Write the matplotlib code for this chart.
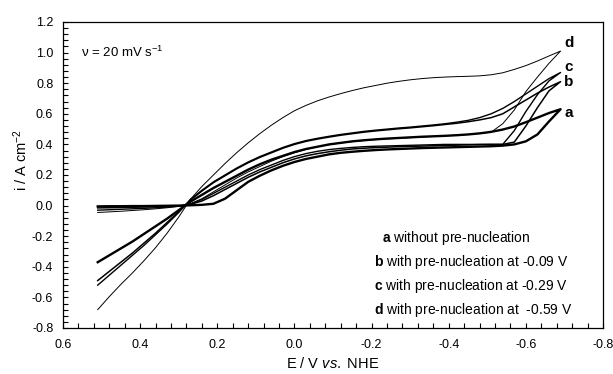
import matplotlib
matplotlib.use("Agg")
import matplotlib.pyplot as plt
from matplotlib.ticker import MultipleLocator

plt.rcParams['font.family'] = ['Liberation Sans', 'DejaVu Sans']
plt.rcParams['mathtext.fontset'] = 'custom'
plt.rcParams['mathtext.rm'] = 'Liberation Sans'
plt.rcParams['mathtext.it'] = 'Liberation Sans:italic'
plt.rcParams['mathtext.bf'] = 'Liberation Sans:bold'

# Potential grid (V vs NHE), in forward (cathodic) sweep order
E_fwd = [0.51, 0.48, 0.45, 0.42, 0.39, 0.36, 0.33, 0.30, 0.27, 0.24, 0.21, 0.18,
         0.15, 0.12, 0.09, 0.06, 0.03, 0.00, -0.03, -0.06, -0.09, -0.12, -0.15,
         -0.18, -0.21, -0.24, -0.27, -0.30, -0.33, -0.36, -0.39, -0.42, -0.45,
         -0.48, -0.51, -0.54, -0.57, -0.60, -0.63, -0.66, -0.69]

# Currents (A cm^-2) of the forward sweep, listed along E_fwd
a_fwd = [-0.005, -0.004, -0.004, -0.003, -0.003, -0.002, -0.001, 0.0, 0.002, 0.005, 0.012, 0.045,
         0.10, 0.155, 0.195, 0.23, 0.26, 0.285, 0.305, 0.32, 0.335, 0.345, 0.352,
         0.358, 0.363, 0.367, 0.37, 0.373, 0.376, 0.378, 0.38, 0.382, 0.384,
         0.386, 0.388, 0.392, 0.40, 0.42, 0.465, 0.55, 0.63]
b_fwd = [-0.015, -0.014, -0.012, -0.011, -0.009, -0.007, -0.005, -0.002, 0.008, 0.03, 0.065, 0.105,
         0.145, 0.185, 0.22, 0.25, 0.28, 0.305, 0.325, 0.34, 0.352, 0.362, 0.37,
         0.375, 0.379, 0.382, 0.385, 0.387, 0.389, 0.391, 0.393, 0.395, 0.397,
         0.399, 0.40, 0.40, 0.415, 0.52, 0.64, 0.75, 0.81]
c_fwd = [-0.03, -0.027, -0.024, -0.021, -0.018, -0.014, -0.01, -0.004, 0.01, 0.04, 0.08, 0.12,
         0.16, 0.20, 0.235, 0.265, 0.295, 0.32, 0.34, 0.355, 0.366, 0.374, 0.38,
         0.385, 0.388, 0.39, 0.392, 0.394, 0.396, 0.398, 0.40, 0.40, 0.40,
         0.40, 0.40, 0.40, 0.49, 0.615, 0.725, 0.815, 0.87]
d_fwd = [-0.045, -0.041, -0.037, -0.032, -0.027, -0.021, -0.014, -0.005, 0.012, 0.045, 0.09, 0.135,
         0.18, 0.22, 0.255, 0.29, 0.32, 0.345, 0.367, 0.385, 0.398, 0.41, 0.418,
         0.425, 0.431, 0.436, 0.44, 0.444, 0.448, 0.452, 0.456, 0.46, 0.465,
         0.472, 0.48, 0.535, 0.625, 0.745, 0.84, 0.93, 1.01]

# Currents of the reverse (anodic-going) sweep, also listed along E_fwd
a_rev = [-0.37, -0.325, -0.28, -0.235, -0.185, -0.135, -0.085, -0.03, 0.025, 0.07, 0.115, 0.155,
         0.195, 0.235, 0.27, 0.30, 0.325, 0.35, 0.37, 0.385, 0.40, 0.41, 0.42,
         0.427, 0.433, 0.438, 0.442, 0.446, 0.45, 0.453, 0.456, 0.46, 0.465,
         0.472, 0.482, 0.497, 0.517, 0.545, 0.575, 0.605, 0.63]
b_rev = [-0.49, -0.43, -0.37, -0.31, -0.245, -0.18, -0.11, -0.04, 0.035, 0.095, 0.15, 0.195,
         0.24, 0.28, 0.315, 0.345, 0.375, 0.40, 0.42, 0.435, 0.448, 0.46, 0.47,
         0.48, 0.488, 0.495, 0.502, 0.508, 0.515, 0.522, 0.53, 0.538, 0.548,
         0.56, 0.575, 0.60, 0.645, 0.69, 0.735, 0.775, 0.81]
c_rev = [-0.52, -0.455, -0.39, -0.325, -0.26, -0.19, -0.12, -0.045, 0.04, 0.10, 0.155, 0.20,
         0.245, 0.285, 0.32, 0.35, 0.38, 0.405, 0.425, 0.44, 0.453, 0.465, 0.475,
         0.485, 0.493, 0.50, 0.507, 0.513, 0.52, 0.527, 0.535, 0.545, 0.557,
         0.575, 0.60, 0.635, 0.68, 0.73, 0.78, 0.83, 0.87]
d_rev = [-0.68, -0.595, -0.515, -0.44, -0.36, -0.275, -0.18, -0.075, 0.04, 0.125, 0.20, 0.275,
         0.345, 0.41, 0.47, 0.525, 0.575, 0.62, 0.655, 0.685, 0.71, 0.732, 0.752,
         0.77, 0.785, 0.80, 0.812, 0.822, 0.83, 0.836, 0.84, 0.843, 0.845,
         0.848, 0.855, 0.868, 0.89, 0.915, 0.945, 0.978, 1.01]

curve_names = ['a', 'b', 'c', 'd']
curve_label_i = [0.605, 0.81, 0.905, 1.065]
legend_lines = ['without pre-nucleation',
                'with pre-nucleation at -0.09 V',
                'with pre-nucleation at -0.29 V',
                'with pre-nucleation at  -0.59 V']

fig = plt.figure(figsize=(6.13, 3.74), dpi=100)
ax = fig.add_axes([63/613, 46/374, 540/613, 306/374])

widths = [1.7, 1.1, 1.0, 0.7]
fwd = [a_fwd, b_fwd, c_fwd, d_fwd]
rev = [a_rev, b_rev, c_rev, d_rev]
for f, r, w in zip(fwd, rev, widths):
    xs = E_fwd + E_fwd[::-1]
    ys = f + r[::-1]
    ax.plot(xs, ys, color='black', lw=w, solid_joinstyle='round')

ax.set_xlim(0.6, -0.8)
ax.set_ylim(-0.8, 1.2)
ax.xaxis.set_major_locator(MultipleLocator(0.2))
ax.xaxis.set_minor_locator(MultipleLocator(0.04))
ax.yaxis.set_major_locator(MultipleLocator(0.2))
ax.yaxis.set_minor_locator(MultipleLocator(0.04))
ax.tick_params(which='both', direction='in', top=False, right=False, labelsize=9,
               length=3.5, width=0.8)
ax.tick_params(axis='x', which='major', pad=8)
ax.tick_params(axis='y', which='major', pad=7)
fmt = plt.FuncFormatter(lambda v, p: f"{v:.1f}".replace('-0.0', '0.0'))
ax.xaxis.set_major_formatter(fmt)
ax.yaxis.set_major_formatter(fmt)
for s in ax.spines.values():
    s.set_linewidth(0.9)

ax.set_xlabel(r"E / V $\mathit{vs.}$ NHE", fontsize=10.5)
ax.set_ylabel(r"i / A cm$^{-2}$", fontsize=10.5)
ax.yaxis.set_label_coords(-0.062, 0.55)
ax.xaxis.set_label_coords(0.5, -0.092)

ax.text(0.553, 1.0, "ν = 20 mV s$^{-1}$", fontsize=9.5, va='center', ha='left')

for n, yy in zip(curve_names, curve_label_i):
    ax.text(-0.70, yy, n, fontsize=11, fontweight='bold', va='center', ha='left')

leg_y = [-0.212, -0.369, -0.525, -0.682]
leg_x = [-0.227, -0.206, -0.206, -0.206]
for n, t, xx, yy in zip(curve_names, legend_lines, leg_x, leg_y):
    ax.text(xx, yy, r"$\mathbf{" + n + "}$ " + t, fontsize=10, va='center', ha='left')

fig.savefig('out.png', dpi=100)
